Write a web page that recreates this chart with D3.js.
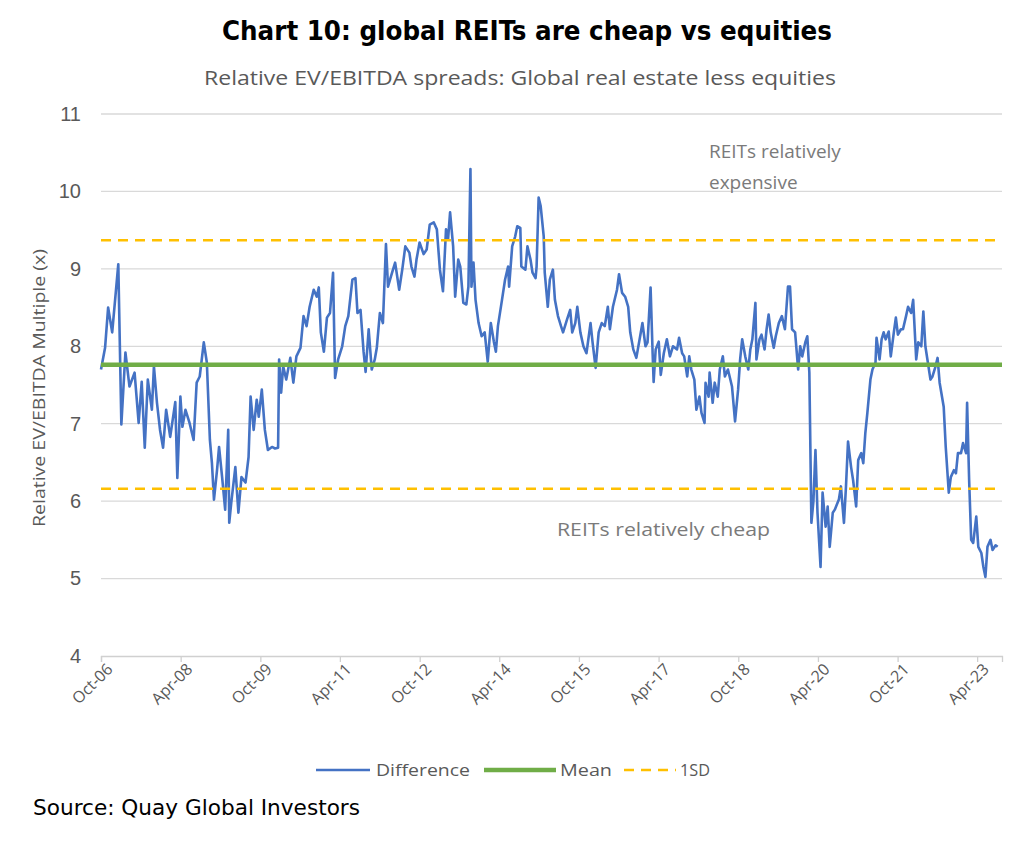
<!DOCTYPE html>
<html><head><meta charset="utf-8">
<script src="https://cdn.jsdelivr.net/npm/d3@7"></script>
<style>body{margin:0;background:#fff}</style>
</head><body><svg id="c" width="1024" height="851"></svg>
<script>
// ---- data ----
const titleText = "Chart 10: global REITs are cheap vs equities";
const subtitleText = "Relative EV/EBITDA spreads: Global real estate less equities";
const yAxisTitle = "Relative EV/EBITDA Multiple (x)";
const sourceText = "Source: Quay Global Investors";
const seriesNames = ["Difference", "Mean", "1SD"];
// observation week number counted from 1 Oct 2006
const weekIndex = [0,4,7,11,17,20,24,28,33,37,40,43,46,50,52,55,58,61,64,68,73,75,78,80,83,87,91,94,97,101,104,107,109,111,114,116,119,122,125,126,128,132,135,138,142,145,147,150,153,155,158,161,164,168,171,174,175,177,179,182,186,189,192,196,199,202,205,209,212,214,216,219,222,225,228,230,233,237,240,243,247,250,252,255,258,260,263,266,269,271,274,277,280,282,286,289,293,296,299,303,305,308,310,313,317,320,323,327,330,333,336,339,341,343,346,348,351,353,356,359,361,363,364,366,368,371,374,377,380,383,386,388,390,394,397,400,401,404,407,409,412,413,417,419,422,424,427,428,430,432,435,436,439,441,444,446,449,452,454,458,461,463,466,468,471,474,477,481,483,486,489,492,495,498,500,503,507,509,512,515,518,520,523,526,530,532,535,537,540,542,543,545,548,550,553,556,559,562,566,568,571,573,576,578,580,583,585,588,590,593,594,597,598,601,603,606,608,611,613,616,620,623,626,628,630,633,636,638,640,643,644,647,649,652,654,656,658,661,663,666,669,672,675,677,679,682,685,687,689,692,694,696,698,700,702,704,707,709,712,714,716,719,721,725,727,730,732,734,737,739,742,744,747,749,751,753,756,758,761,762,765,767,769,771,774,776,779,781,783,786,788,791,793,796,798,801,803,806,808,810,812,815,817,820,822,824,828,830,833,835,838,840,842,845,847,850,851,853,855,857,860,862,865,867,869,871,874,876,879,881];
const differenceValues = [7.70,7.98,8.50,8.18,9.06,6.99,7.92,7.48,7.66,7.01,7.54,6.69,7.57,7.18,7.74,7.27,6.92,6.69,7.18,6.83,7.28,6.30,7.35,6.96,7.18,7.01,6.79,7.53,7.61,8.05,7.79,6.79,6.49,6.02,6.40,6.70,6.31,5.89,6.92,5.72,5.98,6.44,5.85,6.31,6.24,6.57,7.35,6.92,7.31,7.09,7.44,6.92,6.66,6.70,6.68,6.69,7.83,7.40,7.74,7.57,7.85,7.53,7.87,7.98,8.39,8.26,8.51,8.73,8.64,8.76,8.18,7.93,8.37,8.43,8.95,7.59,7.83,8.00,8.26,8.39,8.86,8.88,8.43,8.47,7.93,7.67,8.22,7.70,7.83,7.98,8.43,8.30,9.32,8.77,8.95,9.08,8.73,8.99,9.29,9.21,9.03,8.90,9.12,9.34,9.19,9.25,9.57,9.60,9.51,8.99,8.71,9.51,9.38,9.73,9.29,8.64,9.12,9.03,8.56,8.54,8.77,10.29,8.77,9.08,8.60,8.30,8.13,8.18,7.80,8.30,8.06,7.93,8.26,8.60,8.86,9.03,8.77,9.29,9.42,9.55,9.53,9.03,8.99,9.29,9.12,8.95,8.88,9.03,9.92,9.81,9.42,8.95,8.51,8.86,8.99,8.60,8.39,8.26,8.18,8.35,8.47,8.18,8.30,8.51,8.18,8.00,7.91,8.30,8.05,7.72,8.18,8.30,8.26,8.51,8.22,8.51,8.73,8.93,8.69,8.64,8.51,8.18,7.96,7.85,8.15,8.30,8.00,8.05,8.76,7.91,7.54,7.96,8.06,7.63,7.91,8.09,7.87,8.00,7.96,8.11,7.91,7.87,7.61,7.87,7.70,7.57,7.18,7.35,7.14,7.01,7.53,7.35,7.66,7.27,7.53,7.35,7.70,7.87,7.61,7.70,7.48,7.03,7.44,7.83,8.09,7.87,7.70,7.96,8.09,8.56,7.83,8.09,8.15,7.96,8.22,8.41,8.18,7.98,8.13,8.30,8.39,8.22,8.77,8.77,8.22,8.18,7.70,8.00,7.87,8.05,8.13,7.66,5.72,6.00,6.66,5.85,5.15,6.11,5.67,5.93,5.41,5.85,5.89,6.02,6.19,5.72,6.19,6.77,6.44,6.27,5.93,6.53,6.62,6.49,6.88,7.14,7.57,7.70,7.79,8.11,7.83,8.09,8.18,8.09,8.19,7.87,8.18,8.37,8.15,8.22,8.22,8.39,8.51,8.43,8.60,7.83,8.05,8.00,8.45,8.00,7.83,7.57,7.61,7.74,7.85,7.53,7.22,6.70,6.11,6.31,6.40,6.36,6.62,6.62,6.75,6.62,7.27,6.27,5.50,5.46,5.80,5.41,5.33,5.15,5.02,5.41,5.50,5.37,5.43,5.41];
const meanValue = 7.76;
const sdUpperValue = 9.37;
const sdLowerValue = 6.16;
const yTickValues = [4, 5, 6, 7, 8, 9, 10, 11];
const xTickLabels = ["Oct-06","Apr-08","Oct-09","Apr-11","Oct-12","Apr-14","Oct-15","Apr-17","Oct-18","Apr-20","Oct-21","Apr-23"];
const annotationExpensive = ["REITs relatively", "expensive"];
const annotationCheap = "REITs relatively cheap";

// ---- chart ----
const svg = d3.select("#c");
svg.append("rect").attr("width",1024).attr("height",851).attr("fill","#fff");

const startDate = new Date(2006, 9, 1);
const endDate = new Date(2023, 8, 19);
const x = d3.scaleTime().domain([startDate, endDate]).range([101, 1002]);
const y = d3.scaleLinear().domain([4, 11]).range([656, 114]);
const parseTick = d3.timeParse("%b-%y");
const tickDates = xTickLabels.map(parseTick);
const data = weekIndex.map((w, i) => ({date: d3.timeDay.offset(startDate, 7 * w), value: differenceValues[i]}));

const gray = "#595959";

// gridlines
svg.append("g").selectAll("line").data(yTickValues.filter(v => v > 4)).join("line")
  .attr("x1", x.range()[0]).attr("x2", x.range()[1])
  .attr("y1", d => y(d)).attr("y2", d => y(d))
  .attr("stroke", "#d9d9d9").attr("stroke-width", 1.3);

// x axis
const xAxis = d3.axisBottom(x).tickValues(tickDates).tickFormat((d, i) => xTickLabels[i]).tickSizeOuter(0).tickSize(6);
const gx = svg.append("g").attr("transform", `translate(0,${y(4)})`).call(xAxis);
gx.select(".domain").attr("stroke", "#d0d0d0").attr("stroke-width", 1.3);
gx.selectAll(".tick line").attr("stroke", "#d0d0d0").attr("stroke-width", 1.3);
gx.selectAll(".tick text")
  .attr("font-family", "'Open Sans', sans-serif").attr("font-size", 16).attr("fill", gray)
  .attr("text-anchor", "end").attr("dy", "0.35em")
  .attr("transform", "translate(4,6) rotate(-45)").attr("x", 0).attr("y", 6);

// y axis labels
const yAxis = d3.axisLeft(y).tickValues(yTickValues).tickFormat(d3.format("d")).tickSize(0).tickPadding(0);
const gy = svg.append("g").attr("transform", "translate(82,0)").call(yAxis);
gy.select(".domain").remove();
gy.selectAll(".tick text").attr("font-family", "'Liberation Sans', Arial, sans-serif")
  .attr("font-size", 20).attr("fill", gray).attr("x", -1);

// difference line
svg.append("path").datum(data)
  .attr("d", d3.line().x(d => x(d.date)).y(d => y(d.value)))
  .attr("fill", "none").attr("stroke", "#4472C4").attr("stroke-width", 2.6)
  .attr("stroke-linejoin", "round");

// mean
const flat = v => [{date: startDate, value: v}, {date: endDate, value: v}];
const hline = d3.line().x(d => x(d.date)).y(d => y(d.value));
svg.append("path").datum(flat(meanValue)).attr("d", hline)
  .attr("stroke", "#70AD47").attr("stroke-width", 4.5).attr("fill", "none");
// 1SD
[sdUpperValue, sdLowerValue].forEach(v => {
  svg.append("path").datum(flat(v)).attr("d", hline)
    .attr("stroke", "#FFC000").attr("stroke-width", 2.6).attr("fill", "none")
    .attr("stroke-dasharray", "10,7");
});

// titles
svg.append("text").attr("x", 527).attr("y", 40).attr("text-anchor", "middle")
  .attr("font-family", "'DejaVu Sans Condensed', 'DejaVu Sans', sans-serif").attr("font-weight", "bold")
  .attr("font-size", 26).attr("fill", "#000").attr("textLength", 610).attr("lengthAdjust", "spacingAndGlyphs")
  .text(titleText);
svg.append("text").attr("x", 520).attr("y", 85).attr("text-anchor", "middle")
  .attr("font-family", "'Open Sans', sans-serif").attr("font-size", 20).attr("fill", gray)
  .attr("textLength", 632).attr("lengthAdjust", "spacingAndGlyphs")
  .text(subtitleText);

// y-axis title
svg.append("text").attr("transform", "translate(45,388) rotate(-90)").attr("text-anchor", "middle")
  .attr("font-family", "'Open Sans', sans-serif").attr("font-size", 16).attr("fill", gray)
  .attr("textLength", 278).attr("lengthAdjust", "spacingAndGlyphs")
  .text(yAxisTitle);

// annotations
const annColor = "#7a7a7a";
svg.append("text").attr("font-family", "'Open Sans', sans-serif").attr("font-size", 19).attr("fill", annColor)
  .selectAll("tspan").data(annotationExpensive).join("tspan")
  .attr("x", 709).attr("y", (d, i) => 158 + i * 31).text(d => d);
svg.append("text").attr("x", 557).attr("y", 536)
  .attr("font-family", "'Open Sans', sans-serif").attr("font-size", 19).attr("fill", annColor)
  .attr("textLength", 213).attr("lengthAdjust", "spacingAndGlyphs").text(annotationCheap);

// legend
const legend = svg.append("g").attr("font-family", "'Open Sans', sans-serif").attr("font-size", 17).attr("fill", gray);
const legendItems = [
  {name: seriesNames[0], x1: 316, x2: 370, color: "#4472C4", w: 2.6, dash: null, tx: 376, tl: 94},
  {name: seriesNames[1], x1: 484, x2: 556, color: "#70AD47", w: 4.5, dash: null, tx: 560, tl: 52},
  {name: seriesNames[2], x1: 624, x2: 676, color: "#FFC000", w: 2.6, dash: "10,7", tx: 680, tl: 30}
];
legendItems.forEach(it => {
  legend.append("line").attr("x1", it.x1).attr("x2", it.x2).attr("y1", 770).attr("y2", 770)
    .attr("stroke", it.color).attr("stroke-width", it.w).attr("stroke-dasharray", it.dash);
  legend.append("text").attr("x", it.tx).attr("y", 776).attr("textLength", it.tl)
    .attr("lengthAdjust", "spacingAndGlyphs").text(it.name);
});

// source
svg.append("text").attr("x", 33).attr("y", 815)
  .attr("font-family", "'DejaVu Sans Condensed', 'DejaVu Sans', sans-serif").attr("font-size", 21).attr("fill", "#000")
  .attr("textLength", 327).attr("lengthAdjust", "spacingAndGlyphs").text(sourceText);
</script></body></html>
